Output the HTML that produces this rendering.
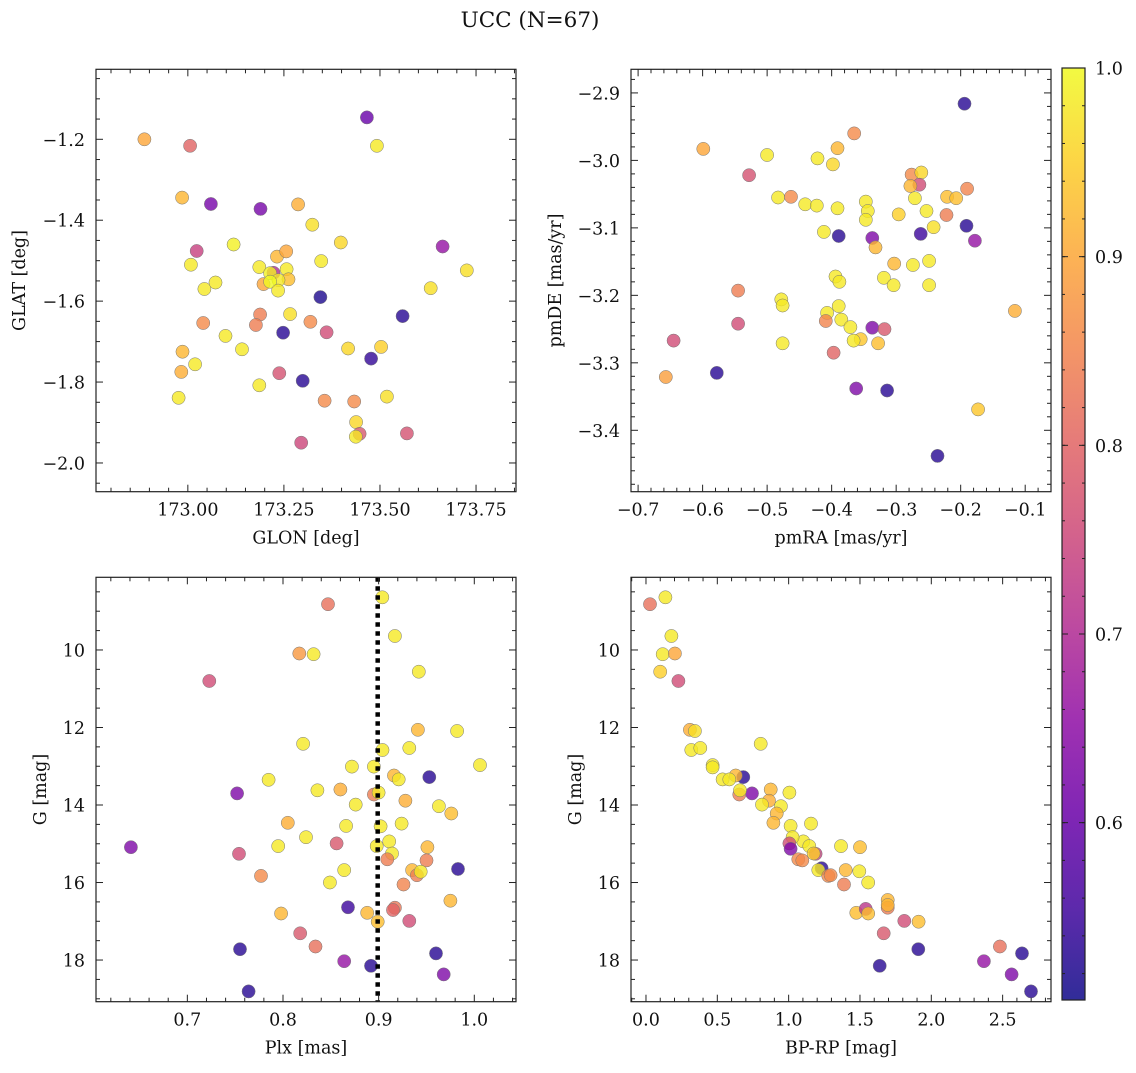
<!DOCTYPE html>
<html><head><meta charset="utf-8">
<style>
body{margin:0;background:#fff;}
svg text{font-family:"DejaVu Serif","Liberation Serif",serif;fill:#111;}
</style></head>
<body>
<svg id="fig" width="1136" height="1068" viewBox="0 0 1136 1068" xmlns="http://www.w3.org/2000/svg">
<text x="530" y="27" font-size="21.5" text-anchor="middle">UCC (N=67)</text>
</svg>
<script>
// Panel 1: GLON / GLAT
const glon = [172.887,173.006,173.466,173.492,172.985,173.060,173.189,173.287,173.324,173.119,173.398,173.663,173.023,173.232,173.256,173.008,173.347,173.726,173.186,173.257,173.223,173.214,173.262,173.236,173.197,173.214,173.235,173.043,173.072,173.632,173.345,173.559,173.188,173.266,173.177,173.319,173.040,173.248,173.361,173.098,173.141,173.417,173.503,173.477,172.986,173.019,172.983,173.238,173.299,173.186,172.976,173.518,173.356,173.433,173.438,173.447,173.437,173.570,173.295];
const glat = [-1.200,-1.216,-1.146,-1.216,-1.344,-1.360,-1.372,-1.361,-1.411,-1.460,-1.455,-1.465,-1.476,-1.490,-1.477,-1.510,-1.501,-1.524,-1.516,-1.521,-1.530,-1.531,-1.546,-1.548,-1.558,-1.552,-1.574,-1.570,-1.554,-1.568,-1.590,-1.637,-1.633,-1.632,-1.659,-1.651,-1.654,-1.678,-1.677,-1.686,-1.719,-1.717,-1.713,-1.742,-1.725,-1.756,-1.775,-1.778,-1.797,-1.808,-1.839,-1.836,-1.846,-1.848,-1.899,-1.928,-1.935,-1.927,-1.950];
const prob1 = [.90,.80,.60,.98,.92,.62,.62,.91,.97,.99,.96,.66,.74,.92,.90,.98,.98,.97,.98,.98,.70,.99,.93,.98,.90,1.0,.98,.98,.98,.97,.52,.53,.84,.97,.84,.86,.86,.53,.76,.98,.98,.96,.95,.54,.92,.98,.91,.77,.53,.98,.98,.97,.86,.86,.96,.78,.98,.77,.75];
// Panel 2: pmRA / pmDE
const pmra = [-0.194,-0.599,-0.365,-0.500,-0.391,-0.422,-0.398,-0.528,-0.276,-0.261,-0.264,-0.278,-0.190,-0.483,-0.463,-0.441,-0.423,-0.391,-0.347,-0.344,-0.347,-0.271,-0.221,-0.207,-0.296,-0.253,-0.222,-0.242,-0.191,-0.412,-0.389,-0.337,-0.262,-0.178,-0.332,-0.303,-0.274,-0.249,-0.394,-0.388,-0.319,-0.304,-0.249,-0.545,-0.478,-0.476,-0.116,-0.389,-0.407,-0.409,-0.385,-0.371,-0.545,-0.337,-0.318,-0.645,-0.355,-0.366,-0.328,-0.476,-0.397,-0.578,-0.657,-0.362,-0.314,-0.173,-0.236];
const pmde = [-2.916,-2.983,-2.960,-2.992,-2.982,-2.997,-3.006,-3.022,-3.021,-3.018,-3.036,-3.038,-3.042,-3.055,-3.054,-3.065,-3.067,-3.071,-3.061,-3.075,-3.088,-3.056,-3.054,-3.056,-3.080,-3.075,-3.081,-3.099,-3.097,-3.106,-3.112,-3.115,-3.109,-3.119,-3.129,-3.153,-3.155,-3.149,-3.172,-3.180,-3.174,-3.185,-3.185,-3.193,-3.206,-3.215,-3.223,-3.216,-3.226,-3.238,-3.236,-3.247,-3.242,-3.248,-3.250,-3.267,-3.265,-3.267,-3.271,-3.271,-3.285,-3.315,-3.321,-3.338,-3.341,-3.369,-3.438];
const prob2 = [.53,.90,.86,.98,.92,.98,.96,.77,.86,.96,.76,.92,.85,.98,.86,.98,.98,.98,.98,.98,.98,.98,.93,.93,.95,.98,.84,.97,.53,.98,.53,.63,.55,.66,.92,.92,.98,.98,.98,.98,.98,.98,.98,.84,.98,.98,.91,.98,.98,.85,.98,.98,.76,.63,.78,.76,.94,.98,.93,.98,.80,.53,.89,.63,.53,.94,.53];
// Panel 3: Plx / G
const plx = [.9038,.847,.917,.817,.832,.942,.723,.941,.982,.821,.904,.932,1.006,.872,.895,.916,.921,.953,.785,.752,.836,.860,.895,.900,.928,.876,.963,.976,.805,.866,.902,.924,.824,.911,.856,.795,.898,.951,.641,.754,.914,.909,.950,.983,.935,.940,.944,.864,.777,.849,.926,.975,.868,.917,.915,.798,.888,.899,.932,.818,.834,.755,.960,.864,.892,.968,.764];
const gmag3 = [8.64,8.82,9.64,10.09,10.11,10.56,10.80,12.06,12.09,12.42,12.58,12.53,12.97,13.01,13.01,13.24,13.34,13.28,13.35,13.70,13.62,13.60,13.73,13.68,13.89,13.99,14.03,14.22,14.46,14.54,14.55,14.48,14.83,14.94,14.99,15.06,15.06,15.09,15.09,15.26,15.25,15.40,15.43,15.65,15.68,15.81,15.72,15.68,15.83,16.00,16.05,16.47,16.64,16.65,16.71,16.80,16.78,17.01,16.99,17.31,17.65,17.72,17.83,18.03,18.15,18.37,18.81];
const prob3 = [.98,.82,.98,.88,.98,.98,.76,.92,.98,.98,.98,.98,.98,.98,.98,.92,.98,.53,.98,.63,.98,.91,.84,.98,.91,.98,.98,.93,.91,.98,.98,.98,.98,.98,.78,.98,.98,.92,.63,.76,.98,.84,.84,.53,.92,.84,.98,.98,.86,.98,.85,.92,.55,.83,.80,.92,.92,.93,.76,.78,.82,.53,.53,.66,.53,.63,.53];
// Panel 4: BP-RP / G
const bprp = [.028,.136,.178,.117,.203,.100,.227,.308,.343,.804,.318,.381,.467,.467,.682,.629,.537,.584,.743,.654,.659,.874,1.005,.862,.813,.946,.916,.893,1.014,1.157,1.367,1.500,1.103,1.028,1.005,1.014,1.145,1.189,1.175,1.068,1.096,1.231,1.208,1.278,1.294,1.400,1.495,1.558,1.388,1.694,1.694,1.694,1.474,1.540,1.558,1.911,1.811,1.666,2.481,1.909,2.636,2.369,1.638,2.563,2.699];
const gmag4 = [8.82,8.64,9.64,10.11,10.09,10.56,10.80,12.06,12.09,12.42,12.58,12.53,12.97,13.03,13.28,13.24,13.34,13.34,13.70,13.73,13.62,13.60,13.68,13.89,13.99,14.03,14.22,14.46,14.54,14.48,15.06,15.09,14.94,14.83,14.99,15.13,15.06,15.26,15.25,15.40,15.43,15.63,15.68,15.83,15.81,15.68,15.71,16.00,16.05,16.45,16.65,16.58,16.78,16.68,16.80,17.01,16.99,17.31,17.65,17.72,17.83,18.03,18.15,18.37,18.81];
const prob4 = [.82,.98,.98,.98,.90,.95,.76,.91,.97,.98,.98,.98,.98,.98,.53,.92,.98,.98,.63,.84,.98,.92,.98,.91,.98,.98,.92,.92,.98,.98,.98,.93,.98,.98,.76,.63,.98,.74,.95,.86,.86,.53,.98,.86,.86,.92,.98,.98,.84,.92,.84,.92,.93,.72,.93,.93,.76,.78,.82,.53,.53,.66,.53,.63,.53];
const cbTicks = [0.6,0.7,0.8,0.9,1.0];
const plxRef = [0.899];

const NS='http://www.w3.org/2000/svg';
const svg=document.getElementById('fig');
const VMIN=0.506,VMAX=1.0;
const FS=17.5;
const stops=['#0d0887','#41049d','#6a00a8','#8f0da4','#b12a90','#cc4778','#e16462','#f2844b','#fca636','#fcce25','#f0f921'];
function hex(h){return [1,3,5].map(i=>parseInt(h.substr(i,2),16));}
function plasma(t){t=Math.max(0,Math.min(1,t));const f=t*10,i=Math.min(9,Math.floor(f)),r=f-i;const a=hex(stops[i]),b=hex(stops[i+1]);return 'rgb('+a.map((v,k)=>Math.round(v+(b[k]-v)*r)).join(',')+')';}
function el(tag,attrs,parent){const e=document.createElementNS(NS,tag);for(const k in attrs)e.setAttribute(k,attrs[k]);(parent||svg).appendChild(e);return e;}
function fmt(v,d){const s=Math.abs(v).toFixed(d);return (v<-1e-9?'\u2212':'')+s;}

function panel(cfg){
  const g=el('g',{});
  
  
  const {x0,x1,y0,y1,xmin,xmax,ymin,ymax,invert}=cfg;
  const sx=v=>x0+(v-xmin)/(xmax-xmin)*(x1-x0);
  const sy=v=>invert? y0+(v-ymin)/(ymax-ymin)*(y1-y0) : y1-(v-ymin)/(ymax-ymin)*(y1-y0);
  const pg=el('g',{},g);
  
  
  cfg.xs.forEach((xv,i)=>{
    const c=el('circle',{cx:sx(xv).toFixed(1),cy:sy(cfg.ys[i]).toFixed(1),r:6.6,fill:plasma((cfg.ps[i]-VMIN)/(VMAX-VMIN)),'fill-opacity':0.8,stroke:'#777','stroke-width':0.5},pg);
    
    
  });
  if(cfg.extra)cfg.extra(g,sx,sy);
  const fr=el('rect',{x:x0,y:y0,width:x1-x0,height:y1-y0,fill:'none',stroke:'#222','stroke-width':1.2},g);
  
  
  const eps=1e-9;
  for(let v=Math.ceil(xmin/cfg.xminor-eps)*cfg.xminor;v<=xmax+eps;v+=cfg.xminor){
    const X=sx(v);const major=Math.abs(v/cfg.xmajor-Math.round(v/cfg.xmajor))<1e-6;const L=major?7:4;
    el('line',{x1:X,y1:y1,x2:X,y2:y1-L,stroke:'#222','stroke-width':1},g);
    el('line',{x1:X,y1:y0,x2:X,y2:y0+L,stroke:'#222','stroke-width':1},g);
    if(major){const t=el('text',{x:X,y:y1+24,'font-size':FS,'text-anchor':'middle'},g);t.textContent=fmt(v,cfg.xdec);
      }
  }
  for(let v=Math.ceil(ymin/cfg.yminor-eps)*cfg.yminor;v<=ymax+eps;v+=cfg.yminor){
    const Y=sy(v);const major=Math.abs(v/cfg.ymajor-Math.round(v/cfg.ymajor))<1e-6;const L=major?7:4;
    el('line',{x1:x0,y1:Y,x2:x0+L,y2:Y,stroke:'#222','stroke-width':1},g);
    el('line',{x1:x1,y1:Y,x2:x1-L,y2:Y,stroke:'#222','stroke-width':1},g);
    if(major){const t=el('text',{x:x0-11,y:Y+6.5,'font-size':FS,'text-anchor':'end'},g);t.textContent=fmt(v,cfg.ydec);
      }
  }
  const xl=el('text',{x:(x0+x1)/2,y:y1+52,'font-size':FS,'text-anchor':'middle'},g);xl.textContent=cfg.xlabel;
  
  const yx=cfg.ylabelX, yc=(y0+y1)/2;
  const yl=el('text',{x:yx,y:yc,'font-size':FS,'text-anchor':'middle',transform:'rotate(-90 '+yx+' '+yc+')'},g);yl.textContent=cfg.ylabel;
  
}

panel({name:'glon-glat-panel',x0:96,x1:516,y0:69.3,y1:491.7,xmin:172.761,xmax:173.854,ymin:-2.071,ymax:-1.027,
  xs:glon,ys:glat,ps:prob1,xmajor:0.25,xminor:0.05,ymajor:0.2,yminor:0.05,xdec:2,ydec:1,xlabel:'GLON [deg]',ylabel:'GLAT [deg]',ylabelX:25});
panel({name:'pm-panel',x0:631,x1:1051,y0:69.3,y1:491.7,xmin:-0.711,xmax:-0.060,ymin:-3.491,ymax:-2.865,
  xs:pmra,ys:pmde,ps:prob2,xmajor:0.1,xminor:0.02,ymajor:0.1,yminor:0.02,xdec:1,ydec:1,xlabel:'pmRA [mas/yr]',ylabel:'pmDE [mas/yr]',ylabelX:561});
panel({name:'plx-g-panel',x0:96,x1:516,y0:577.3,y1:1001.7,xmin:0.6045,xmax:1.0436,ymin:8.125,ymax:19.075,invert:true,
  xs:plx,ys:gmag3,ps:prob3,xmajor:0.1,xminor:0.02,ymajor:2,yminor:0.5,xdec:1,ydec:0,xlabel:'Plx [mas]',ylabel:'G [mag]',ylabelX:46,
  extra:(g,sx,sy)=>{plxRef.forEach(v=>{const l=el('line',{x1:sx(v),x2:sx(v),y1:sy(8.125),y2:sy(19.075),stroke:'#000','stroke-width':4.5,'stroke-dasharray':'4.5 4.5'},g);
    });}});
panel({name:'cmd-panel',x0:631,x1:1051,y0:577.3,y1:1001.7,xmin:-0.105,xmax:2.839,ymin:8.125,ymax:19.075,invert:true,
  xs:bprp,ys:gmag4,ps:prob4,xmajor:0.5,xminor:0.1,ymajor:2,yminor:0.5,xdec:1,ydec:0,xlabel:'BP-RP [mag]',ylabel:'G [mag]',ylabelX:581});

(function(){
  const cx0=1062,cx1=1085,cy0=68,cy1=1000;
  const g=el('g',{});
  
  
  const defs=el('defs',{},g);
  const lg=el('linearGradient',{id:'cbg',x1:0,y1:1,x2:0,y2:0},defs);
  for(let i=0;i<=10;i++)el('stop',{offset:i/10,'stop-color':stops[i]},lg);
  el('rect',{x:cx0,y:cy0,width:cx1-cx0,height:cy1-cy0,fill:'url(#cbg)','fill-opacity':0.85},g);
  el('rect',{x:cx0,y:cy0,width:cx1-cx0,height:cy1-cy0,fill:'none',stroke:'#222','stroke-width':1.2},g);
  const sy=v=>cy1-(v-VMIN)/(VMAX-VMIN)*(cy1-cy0);
  for(let v=0.52;v<=1.0001;v+=0.02){const Y=sy(v);el('line',{x1:cx1,y1:Y,x2:cx1-3,y2:Y,stroke:'#222','stroke-width':1},g);el('line',{x1:cx0,y1:Y,x2:cx0+3,y2:Y,stroke:'#222','stroke-width':1},g);}
  cbTicks.forEach(v=>{const Y=sy(v);el('line',{x1:cx1,y1:Y,x2:cx1-6,y2:Y,stroke:'#222','stroke-width':1},g);el('line',{x1:cx0,y1:Y,x2:cx0+6,y2:Y,stroke:'#222','stroke-width':1},g);
    const t=el('text',{x:cx1+10,y:Y+6.5,'font-size':FS},g);t.textContent=v.toFixed(1);
    });
})();
</script>
</body></html>
